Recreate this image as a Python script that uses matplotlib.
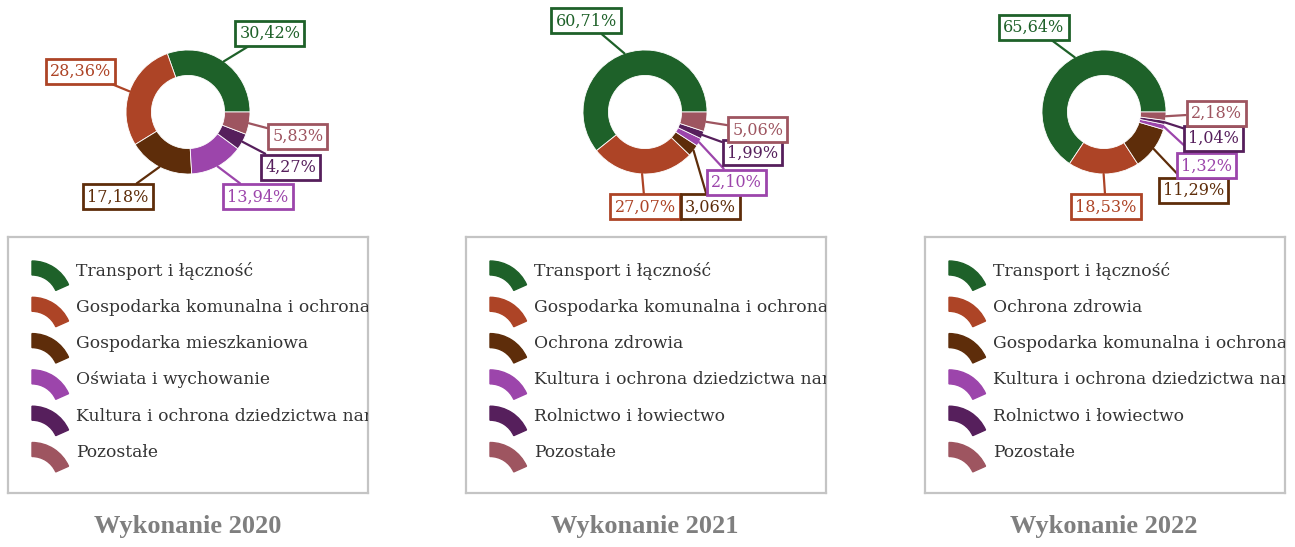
import matplotlib
matplotlib.use("Agg")
import matplotlib.pyplot as plt
from matplotlib.patches import Wedge
import numpy as np

# udział wydatków według działów (%)
labels_2020 = ["Transport i łączność", "Gospodarka komunalna i ochrona środowiska",
               "Gospodarka mieszkaniowa", "Oświata i wychowanie",
               "Kultura i ochrona dziedzictwa narodowego", "Pozostałe"]
values_2020 = [30.42, 28.36, 17.18, 13.94, 4.27, 5.83]

labels_2021 = ["Transport i łączność", "Gospodarka komunalna i ochrona środowiska",
               "Ochrona zdrowia", "Kultura i ochrona dziedzictwa narodowego",
               "Rolnictwo i łowiectwo", "Pozostałe"]
values_2021 = [60.71, 27.07, 3.06, 2.10, 1.99, 5.06]

labels_2022 = ["Transport i łączność", "Ochrona zdrowia",
               "Gospodarka komunalna i ochrona środowiska",
               "Kultura i ochrona dziedzictwa narodowego",
               "Rolnictwo i łowiectwo", "Pozostałe"]
values_2022 = [65.64, 18.53, 11.29, 1.32, 1.04, 2.18]

years = ["2020", "2021", "2022"]

colors = ["#1e6129", "#ad4426", "#5e2d0a", "#9c45ab", "#561f5c", "#9e5560"]

# położenie etykiet względem środka pierścienia (promień = 1)
label_pos_2020 = [(1.32, 1.27), (-1.74, 0.66), (-1.13, -1.37), (1.13, -1.37), (1.66, -0.89), (1.77, -0.39)]
label_pos_2021 = [(-0.95, 1.47), (0.0, -1.53), (1.05, -1.53), (1.47, -1.13), (1.73, -0.66), (1.82, -0.29)]
label_pos_2022 = [(-1.13, 1.37), (0.03, -1.53), (1.44, -1.27), (1.65, -0.87), (1.77, -0.42), (1.81, -0.02)]

W, H = 1295, 547
fig = plt.figure(figsize=(W / 100, H / 100), dpi=100)
serif = "DejaVu Serif"

panels = [
    (188, 8, labels_2020, values_2020, label_pos_2020),
    (645, 466, labels_2021, values_2021, label_pos_2021),
    (1104, 925, labels_2022, values_2022, label_pos_2022),
]

R = 62.0  # promień w pikselach
for (cx, lx, labels, values, lpos), year in zip(panels, years):
    # pierścień
    half = 215
    ax = fig.add_axes([(cx - half) / W, (H - 230) / H, 2 * half / W, 230 / H])
    wedges, _ = ax.pie(values, colors=colors, startangle=0, counterclock=True, radius=1,
                       wedgeprops=dict(width=0.41, edgecolor="white", linewidth=0.6))
    ax.set_aspect("auto")
    ax.set_xlim(-half / R, half / R)
    ax.set_ylim(-118 / R, 112 / R)
    ax.axis("off")

    for w, v, c, p in zip(wedges, values, colors, lpos):
        mid = np.deg2rad((w.theta1 + w.theta2) / 2)
        txt = f"{v:.2f}%".replace(".", ",")
        ax.annotate(txt, xy=(np.cos(mid), np.sin(mid)), xytext=p,
                    ha="center", va="center", fontsize=11.5, family=serif, color=c,
                    bbox=dict(boxstyle="square,pad=0.25", fc="white", ec=c, lw=2),
                    arrowprops=dict(arrowstyle="-", color=c, lw=1.6, shrinkA=0, shrinkB=0),
                    annotation_clip=False)

    # legenda
    lw_, lh_ = 360, 256
    lax = fig.add_axes([lx / W, (H - 493) / H, lw_ / W, lh_ / H])
    lax.set_xlim(0, lw_)
    lax.set_ylim(0, lh_)
    lax.set_xticks([])
    lax.set_yticks([])
    for s in lax.spines.values():
        s.set_color("#c4c4c4")
        s.set_linewidth(1.6)
    for i, (lab, c) in enumerate(zip(labels, colors)):
        row = 34 + i * 36.3
        yc = lh_ - row
        lax.add_patch(Wedge((24, yc + 10 - 40), 40, 24, 90, width=14, color=c))
        lax.text(68, yc, lab, fontsize=12.3, family=serif, color="#333333",
                 va="center", ha="left", clip_on=True)

    fig.text(cx / W, (H - 527) / H, "Wykonanie " + year, ha="center", va="center",
             fontsize=19, fontweight="bold", family="Liberation Serif", color="#7f7f7f")

fig.savefig("out.png", dpi=100)
